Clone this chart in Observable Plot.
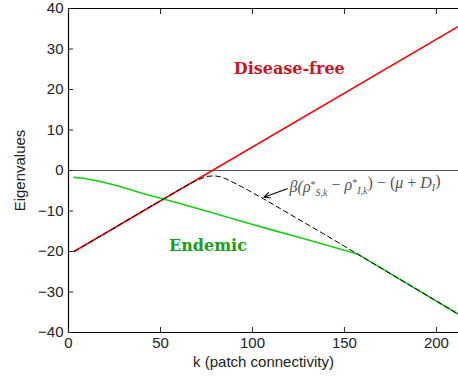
<!DOCTYPE html>
<html>
<head>
<meta charset="utf-8">
<script src="https://cdn.jsdelivr.net/npm/d3@7"></script>
<script src="https://cdn.jsdelivr.net/npm/@observablehq/plot@0.6"></script>
<style>
  html, body { margin: 0; padding: 0; background: #fff; }
</style>
</head>
<body>
<div id="chart"></div>
<script>
// Disease-free eigenvalue (red line)
const redK = [3, 212];
const redY = [-20, 35.6];

// Endemic eigenvalue (green curve)
const greenK = [3, 8, 14, 20, 26, 32, 40, 52, 60, 70, 80, 93, 110, 130, 157, 212];
const greenY = [-1.7, -1.9, -2.4, -3.0, -3.7, -4.5, -5.6, -7.1, -8.1, -9.4, -10.7, -12.4, -14.6, -17.1, -20.6, -35.5];

// beta(rho*_S,k - rho*_I,k) - (mu + D_I)  (dashed black)
const dashK = [3, 20, 40, 60, 66, 70, 73, 76, 79, 82, 85, 88, 92, 97, 106, 120, 140, 157, 212];
const dashY = [-20, -15.5, -10.1, -4.8, -3.3, -2.4, -1.85, -1.45, -1.3, -1.5, -1.95, -2.6, -3.5, -4.7, -7.0, -10.7, -16.0, -20.6, -35.5];

const xTicks = [0, 50, 100, 150, 200];
const yTicks = [-40, -30, -20, -10, 0, 10, 20, 30, 40];

const labels = [
  {k: 120, y: 25, text: "Disease-free", color: "#c8161e"},
  {k: 75.8, y: -18.6, text: "Endemic", color: "#17a017"}
];
const formula = [{k: 120.2, y: -4.1, text: "β(ρ*S,k − ρ*I,k) − (μ + DI)"}];
const arrowData = [{k1: 118.9, y1: -4.5, k2: 106.2, y2: -6.6}];

const red = redK.map((k, i) => ({k, y: redY[i]}));
const green = greenK.map((k, i) => ({k, y: greenY[i]}));
const dash = dashK.map((k, i) => ({k, y: dashY[i]}));

const font = "'Liberation Sans', Arial, Helvetica, sans-serif";

const chart = Plot.plot({
  width: 458,
  height: 377,
  marginLeft: 68,
  marginRight: 0,
  marginTop: 8,
  marginBottom: 45,
  style: {fontFamily: font, fontSize: "15px", background: "#fff", color: "#222"},
  x: {domain: [0, 212]},
  y: {domain: [-40, 40]},
  marks: [
    Plot.ruleY([0], {stroke: "#555", strokeWidth: 1}),
    Plot.line(red, {x: "k", y: "y", stroke: "#ff0000", strokeWidth: 1.6}),
    Plot.line(green, {x: "k", y: "y", stroke: "#1ccc1c", strokeWidth: 1.6, curve: "linear"}),
    Plot.line(dash, {x: "k", y: "y", stroke: "#000", strokeWidth: 1, strokeDasharray: "5,3.5", curve: "linear"}),
    Plot.arrow(arrowData, {x1: "k1", y1: "y1", x2: "k2", y2: "y2", stroke: "#000", strokeWidth: 1.1, headLength: 9, headAngle: 50, bend: 0}),
    Plot.text(labels, {x: "k", y: "y", text: "text", fill: "color", fontFamily: "'DejaVu Serif', 'Liberation Serif', serif", fontWeight: "bold", fontSize: 16}),
    Plot.text(formula, {x: "k", y: "y", text: "text", fill: "#555", textAnchor: "start", fontFamily: "'Liberation Serif', 'DejaVu Serif', serif", fontStyle: "italic", fontSize: 16, className: "formula"}),
    // frame lines
    Plot.ruleX([0], {stroke: "#000", strokeWidth: 1.2}),
    Plot.ruleY([-40, 40], {stroke: "#000", strokeWidth: 1.2}),
    // tick labels
    Plot.axisX(xTicks, {tickSize: 0, tickPadding: 5, fontSize: 15, label: "k (patch connectivity)", labelAnchor: "center", labelArrow: "none", labelOffset: 34}),
    Plot.axisY(yTicks, {tickSize: 0, tickPadding: 5, fontSize: 15, label: "Eigenvalues", labelAnchor: "center", labelArrow: "none", labelOffset: 54}),
    // inward ticks
    Plot.axisX(xTicks, {anchor: "bottom", tickSize: 5, dy: -5, tickFormat: () => "", label: null}),
    Plot.axisX(xTicks, {anchor: "top", tickSize: 5, dy: 5, tickFormat: () => "", label: null}),
    Plot.axisY(yTicks, {anchor: "left", tickSize: 5, dx: 5, tickFormat: () => "", label: null})
  ]
});

document.getElementById("chart").appendChild(chart);

// Typeset the formula with sub/superscripts
d3.select(chart).selectAll("g.formula text").each(function() {
  const t = d3.select(this);
  t.text(null);
  const add = (s, opts = {}) => {
    const ts = t.append("tspan").text(s);
    if (opts.dy) ts.attr("dy", opts.dy);
    if (opts.dx) ts.attr("dx", opts.dx);
    if (opts.size) ts.attr("font-size", opts.size);
    if (opts.normal) ts.attr("font-style", "normal");
    return ts;
  };
  add("β(ρ");
  add("*", {dy: "-0.45em", size: 10, normal: true});
  add("S,k", {dy: "0.8em", size: 10});
  add(" − ", {dy: "-0.35em", normal: true});
  add("ρ");
  add("*", {dy: "-0.45em", size: 10, normal: true});
  add("I,k", {dy: "0.8em", size: 10});
  add(")", {dy: "-0.35em", normal: true});
  add(" − (", {normal: true});
  add("μ");
  add(" + ", {normal: true});
  add("D");
  add("I", {dy: "0.3em", size: 10});
  add(")", {dy: "-0.3em", normal: true});
});
</script>
</body>
</html>
